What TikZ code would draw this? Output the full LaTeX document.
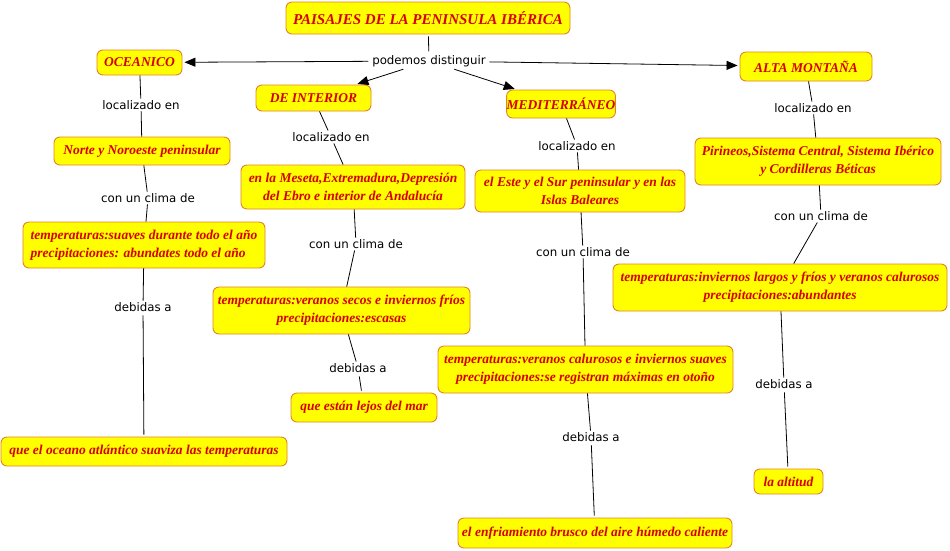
\documentclass[tikz,border=0pt]{standalone}
\usepackage{fontspec}
\newfontfamily\cajafont{Liberation Serif}
\newfontfamily\enlacefont{DejaVu Sans}
\usetikzlibrary{arrows.meta}
\definecolor{amarillo}{RGB}{255,255,0}
\definecolor{borde}{RGB}{224,132,40}
\definecolor{rojo}{RGB}{214,0,0}

\begin{document}
\begin{tikzpicture}[x=1pt,y=-1pt,line width=0.8pt,>={Triangle[length=11pt,width=9pt]}]
\tikzset{caja/.style={draw=borde,fill=amarillo,rounded corners=6pt,line width=0.9pt,text=rojo,inner sep=0pt,align=center,
    font=\cajafont\bfseries\itshape\fontsize{13.5}{18}\selectfont},
  enlace/.style={inner sep=1.5pt,text=black,font=\enlacefont\fontsize{11.8}{14}\selectfont},
  con/.style={line width=0.8pt,shorten <=2pt,shorten >=2pt}}
\useasboundingbox (0,0) rectangle (950,550);
% ---------- top: title and the four landscapes ----------
\node[caja,minimum width=284pt,minimum height=32pt,font=\cajafont\bfseries\itshape\fontsize{15}{18}\selectfont] (titulo) at (428,18) {PAISAJES DE LA PENINSULA IBÉRICA};
\node[enlace] (distinguir) at (429,61) {podemos distinguir};
\node[caja,minimum width=85pt,minimum height=25pt] (oceanico) at (139.5,62.5) {OCEANICO};
\node[caja,minimum width=115pt,minimum height=26pt] (interior) at (313.5,98) {DE INTERIOR};
\node[caja,minimum width=106pt,minimum height=28pt] (medit) at (561,104) {MEDITERRÁNEO};
\node[caja,minimum width=132pt,minimum height=29pt] (montana) at (806,66.5) {ALTA MONTAÑA};
\draw[con] (titulo) -- (distinguir);
\foreach \p in {oceanico,interior,medit,montana}{ \draw[con,->] (distinguir) -- (\p); }
% ---------- column 1: oceanico ----------
\node[enlace] (loc1) at (141,105) {localizado en};
\node[caja,minimum width=176pt,minimum height=28pt] (norte) at (142,151) {Norte y Noroeste peninsular};
\node[enlace] (clima1) at (148,198) {con un clima de};
\node[caja,minimum width=242pt,minimum height=46pt,align=left] (temp1) at (144,245) {temperaturas:suaves durante todo el año\\precipitaciones: abundates todo el año};
\node[enlace] (deb1) at (143,307) {debidas a};
\node[caja,minimum width=286pt,minimum height=29pt] (atlantico) at (144,451.5) {que el oceano atlántico suaviza las temperaturas};
% ---------- column 2: de interior ----------
\node[enlace] (loc2) at (331,137) {localizado en};
\node[caja,minimum width=224pt,minimum height=44pt] (meseta) at (353,187) {en la Meseta,Extremadura,Depresión\\del Ebro e interior de Andalucía};
\node[enlace] (clima2) at (356,244) {con un clima de};
\node[caja,minimum width=257pt,minimum height=47pt] (temp2) at (341.5,310.5) {temperaturas:veranos secos e inviernos fríos\\precipitaciones:escasas};
\node[enlace] (deb2) at (358,368) {debidas a};
\node[caja,minimum width=146pt,minimum height=29pt] (lejos) at (364,407.5) {que están lejos del mar};
% ---------- column 3: mediterraneo ----------
\node[enlace] (loc3) at (577,146) {localizado en};
\node[caja,minimum width=210pt,minimum height=42pt] (este) at (580,191) {el Este y el Sur peninsular y en las\\Islas Baleares};
\node[enlace] (clima3) at (583,252) {con un clima de};
\node[caja,minimum width=295pt,minimum height=47pt] (temp3) at (585.5,369.5) {temperaturas:veranos calurosos e inviernos suaves\\precipitaciones:se registran máximas en otoño};
\node[enlace] (deb3) at (591,437) {debidas a};
\node[caja,minimum width=274pt,minimum height=30pt] (enfriamiento) at (595,533) {el enfriamiento brusco del aire húmedo caliente};
% ---------- column 4: alta montana ----------
\node[enlace] (loc4) at (813,108) {localizado en};
\node[caja,minimum width=246pt,minimum height=47pt] (pirineos) at (818,161.5) {Pirineos,Sistema Central, Sistema Ibérico\\y Cordilleras Béticas};
\node[enlace] (clima4) at (821,216) {con un clima de};
\node[caja,minimum width=334pt,minimum height=47pt] (temp4) at (780,287.5) {temperaturas:inviernos largos y fríos y veranos calurosos\\precipitaciones:abundantes};
\node[enlace] (deb4) at (784,384) {debidas a};
\node[caja,minimum width=69pt,minimum height=25pt] (altitud) at (788.5,481.5) {la altitud};
% ---------- connectors ----------
\draw[con] (oceanico) -- (loc1) (loc1) -- (norte) (norte) -- (clima1) (clima1) -- (temp1) (temp1) -- (deb1) (deb1) -- (atlantico);
\draw[con] (interior) -- (loc2) (loc2) -- (meseta) (meseta) -- (clima2) (clima2) -- (temp2) (temp2) -- (deb2) (deb2) -- (lejos);
\draw[con] (medit) -- (loc3) (loc3) -- (este) (este) -- (clima3) (clima3) -- (temp3) (temp3) -- (deb3) (deb3) -- (enfriamiento);
\draw[con] (montana) -- (loc4) (loc4) -- (pirineos) (pirineos) -- (clima4) (clima4) -- (temp4) (temp4) -- (deb4) (deb4) -- (altitud);
\end{tikzpicture}
\end{document}
